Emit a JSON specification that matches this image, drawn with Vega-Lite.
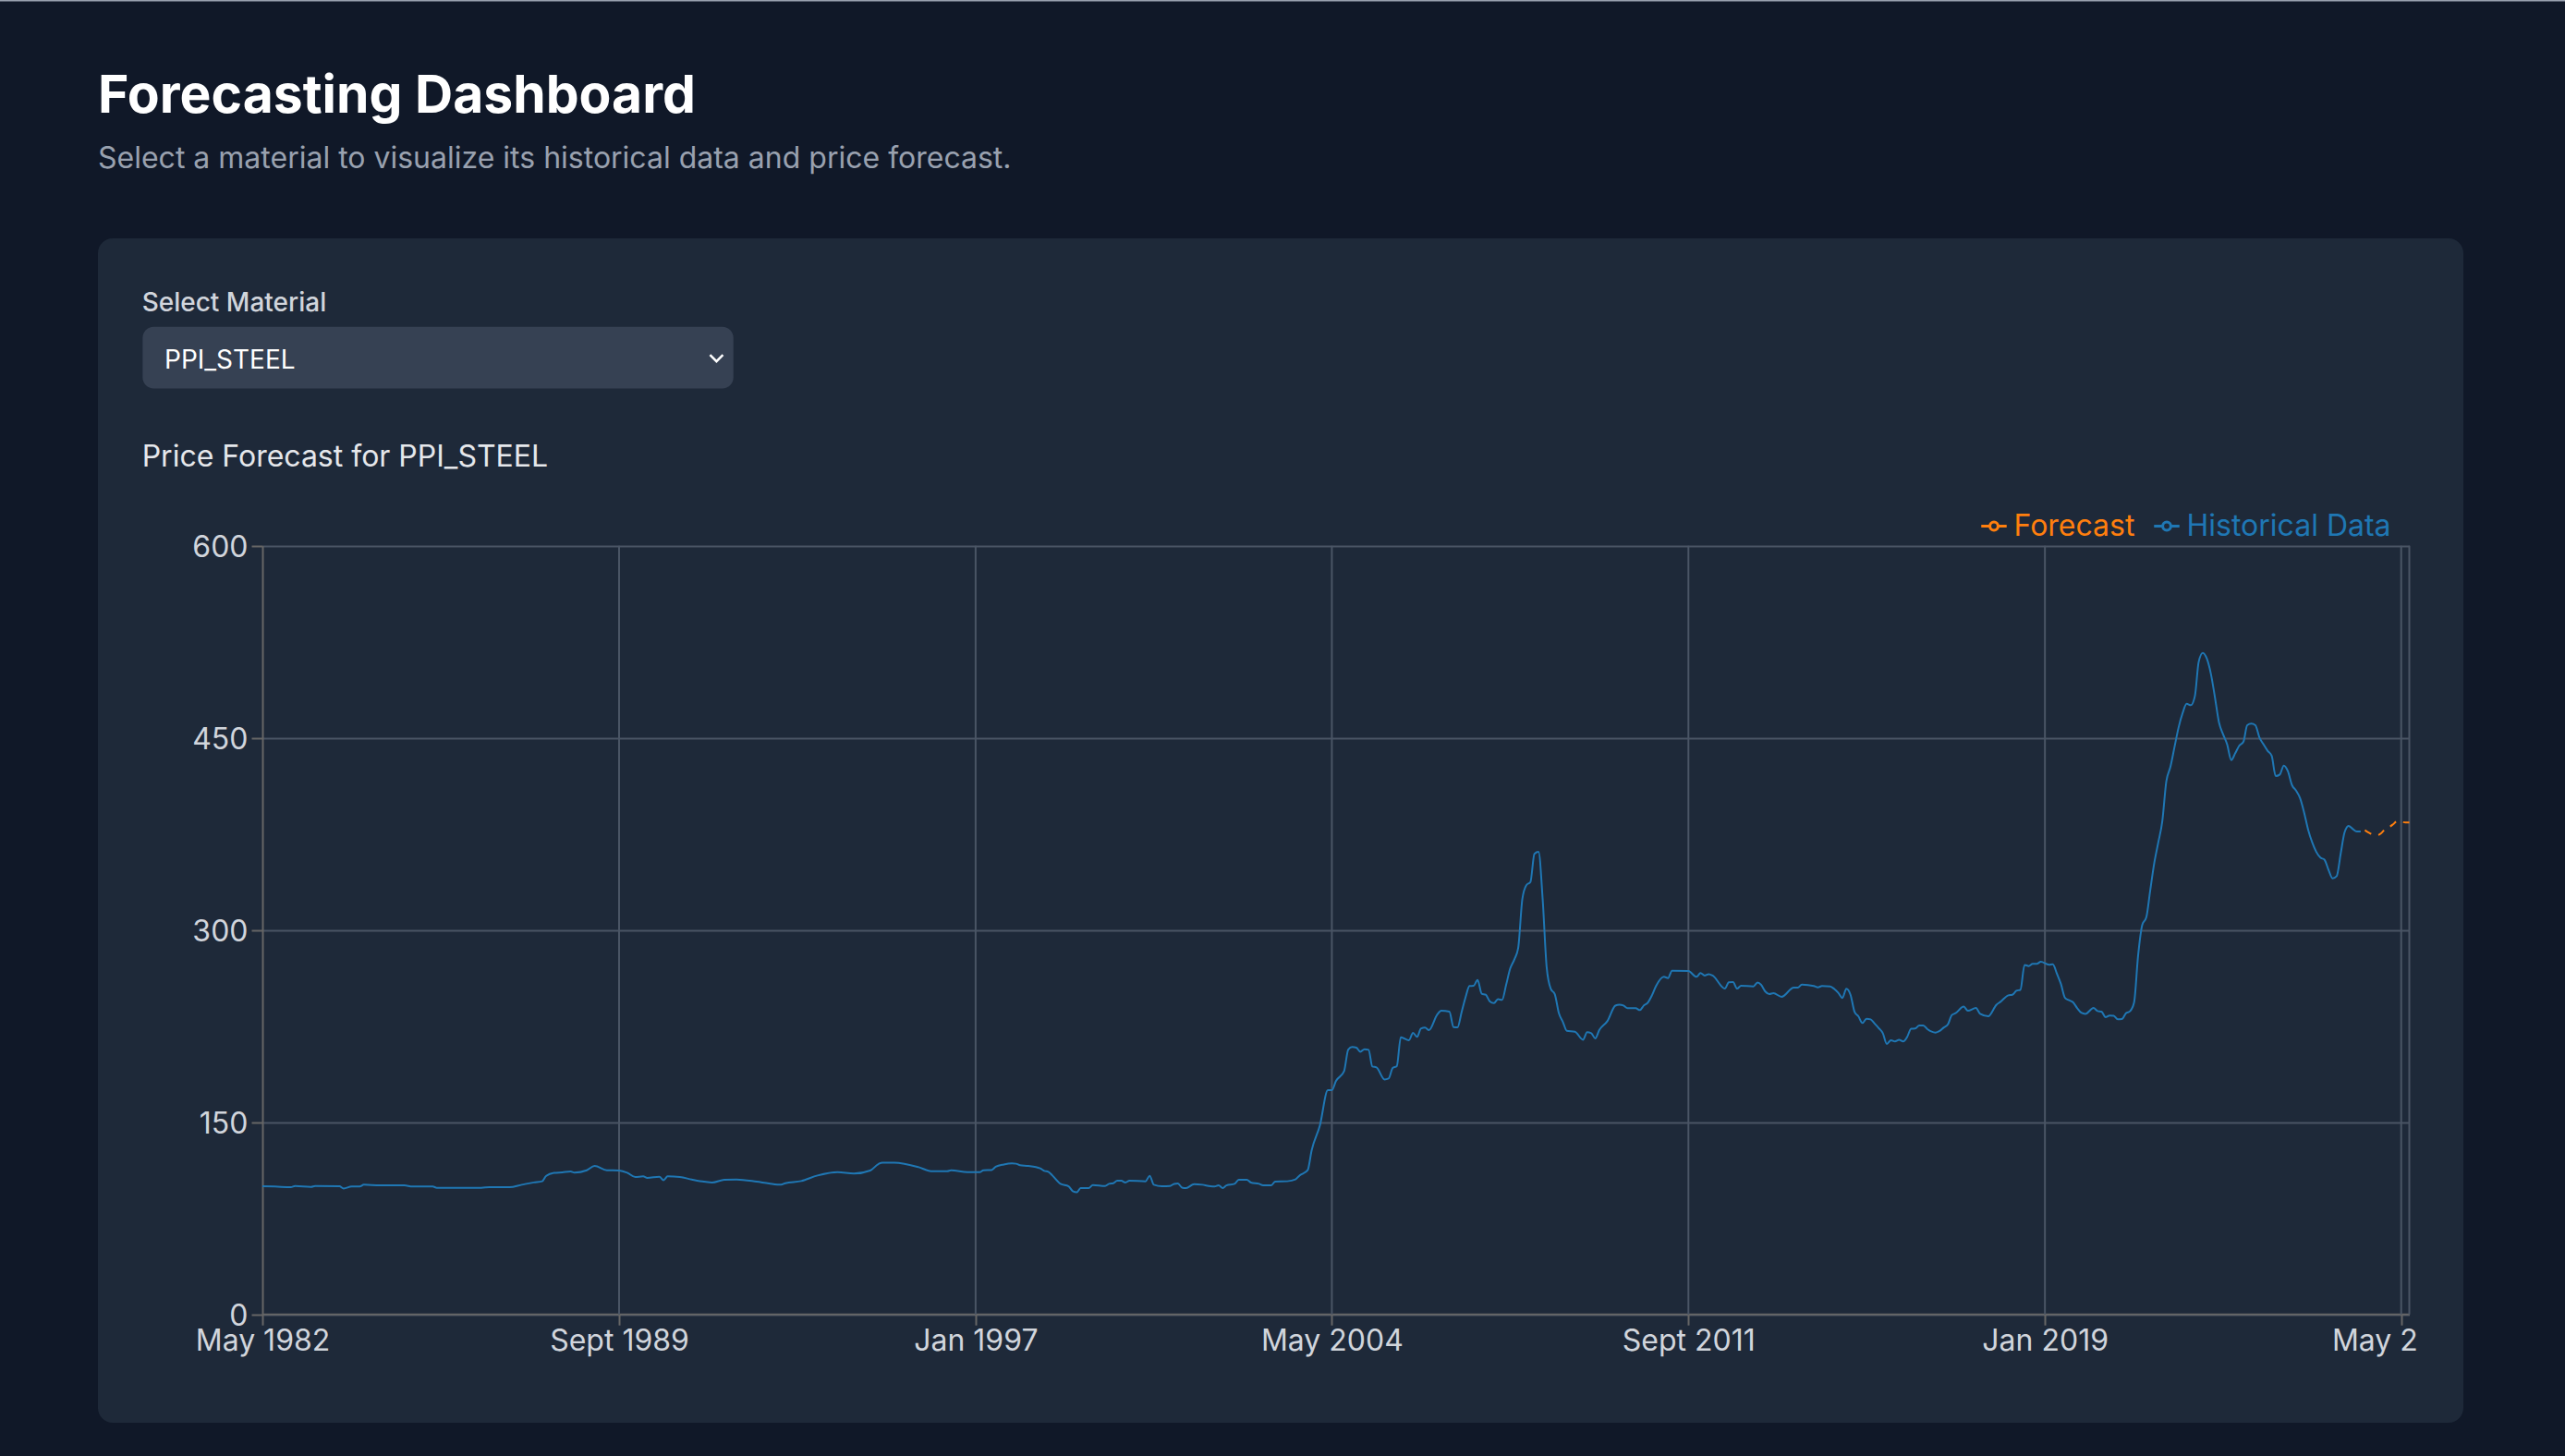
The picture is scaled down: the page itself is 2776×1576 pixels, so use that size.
{
  "$schema": "https://vega.github.io/schema/vega-lite/v6.json",
  "width": 2560,
  "height": 1282,
  "autosize": "none",
  "padding": {"left": 106, "top": 258, "right": 110, "bottom": 36},
  "background": "#101828",
  "title": {
    "text": "Forecasting Dashboard",
    "subtitle": "Select a material to visualize its historical data and price forecast.",
    "anchor": "start",
    "frame": "group",
    "offset": -189.5,
    "font": "Inter",
    "fontSize": 57,
    "fontWeight": 700,
    "color": "#ffffff",
    "subtitleFont": "Inter",
    "subtitleFontSize": 32,
    "subtitleFontWeight": 400,
    "subtitleColor": "#99a1af",
    "subtitlePadding": 23
  },
  "config": {
    "font": "Inter",
    "view": {"fill": "#1e2939", "stroke": null, "cornerRadius": 16}
  },
  "datasets": {
    "gridlines": [
      {"date":"1989-09"},{"date":"1997-01"},{"date":"2004-05"},{"date":"2011-09"},{"date":"2019-01"},{"date":"2026-05"},{"date":"2026-07"}
    ],
    "historical": [
      {"date":"1982-05","price":100},{"date":"1982-08","price":99.8},{"date":"1982-12","price":99.3},{"date":"1983-01","price":100.2},{"date":"1983-05","price":99.5},{"date":"1983-06","price":100.2},{"date":"1983-12","price":100},{"date":"1984-01","price":98.3},{"date":"1984-03","price":99.8},{"date":"1984-05","price":99.8},{"date":"1984-06","price":101.2},{"date":"1984-10","price":100.7},{"date":"1985-04","price":100.7},{"date":"1985-06","price":99.8},{"date":"1985-11","price":99.8},{"date":"1985-12","price":98.8},{"date":"1986-11","price":98.8},{"date":"1987-01","price":99.3},{"date":"1987-06","price":99.3},{"date":"1987-09","price":101.2},{"date":"1987-12","price":103},
      {"date":"1988-02","price":103.9},{"date":"1988-03","price":108},{"date":"1988-05","price":110.4},{"date":"1988-07","price":110.9},{"date":"1988-09","price":111.6},{"date":"1988-10","price":110.7},{"date":"1989-01","price":112.5},{"date":"1989-03","price":115.9},{"date":"1989-06","price":112.5},{"date":"1989-09","price":112.3},{"date":"1989-11","price":110.6},{"date":"1990-01","price":107.2},{"date":"1990-03","price":107.7},{"date":"1990-04","price":106.5},{"date":"1990-07","price":107.5},{"date":"1990-08","price":104.8},{"date":"1990-09","price":107.7},{"date":"1990-12","price":107.2},{"date":"1991-03","price":105.3},{"date":"1991-06","price":103.6},{"date":"1991-08","price":102.9},{"date":"1991-11","price":105.1},
      {"date":"1992-02","price":105.3},{"date":"1992-07","price":103.6},{"date":"1992-10","price":102.2},{"date":"1993-01","price":101.2},{"date":"1993-02","price":102.4},{"date":"1993-06","price":104.1},{"date":"1993-10","price":108.4},{"date":"1994-03","price":111},{"date":"1994-07","price":109.9},{"date":"1994-11","price":112.3},{"date":"1995-01","price":117.3},{"date":"1995-02","price":118.5},{"date":"1995-05","price":118.5},{"date":"1995-11","price":114.9},{"date":"1996-02","price":111.8},{"date":"1996-06","price":111.8},{"date":"1996-07","price":112.5},{"date":"1996-11","price":111},{"date":"1997-02","price":111},{"date":"1997-03","price":112.5},{"date":"1997-05","price":112.7},{"date":"1997-06","price":115.2},{"date":"1997-08","price":117},{"date":"1997-10","price":117.8},{"date":"1997-11","price":117.6},{"date":"1997-12","price":116.4},
      {"date":"1998-02","price":115.9},{"date":"1998-05","price":114},{"date":"1998-06","price":112},{"date":"1998-07","price":111.3},{"date":"1998-08","price":108.4},{"date":"1998-10","price":101.9},{"date":"1998-12","price":100},{"date":"1999-01","price":96.2},{"date":"1999-02","price":95.4},{"date":"1999-03","price":98.6},{"date":"1999-05","price":98.6},{"date":"1999-06","price":101},{"date":"1999-09","price":100.2},{"date":"1999-10","price":101.9},{"date":"1999-11","price":102.4},{"date":"1999-12","price":104.3},{"date":"2000-01","price":104.3},{"date":"2000-02","price":102.9},{"date":"2000-03","price":104.3},{"date":"2000-07","price":103.9},{"date":"2000-08","price":108.2},{"date":"2000-09","price":101.2},{"date":"2000-11","price":100},{"date":"2001-01","price":100.2},{"date":"2001-02","price":101.9},{"date":"2001-03","price":102.2},{"date":"2001-04","price":99},{"date":"2001-05","price":98.6},{"date":"2001-07","price":101.7},{"date":"2001-09","price":101.2},{"date":"2001-11","price":100},{"date":"2001-12","price":99.8},
      {"date":"2002-01","price":100.7},{"date":"2002-02","price":98.6},{"date":"2002-03","price":100.7},{"date":"2002-05","price":101.9},{"date":"2002-06","price":105.1},{"date":"2002-08","price":105.1},{"date":"2002-09","price":102.9},{"date":"2002-11","price":101.9},{"date":"2002-12","price":100.7},{"date":"2003-02","price":100.7},{"date":"2003-03","price":103.6},{"date":"2003-06","price":103.9},{"date":"2003-08","price":105.3},{"date":"2003-09","price":108.4},{"date":"2003-11","price":112.5},{"date":"2003-12","price":128},{"date":"2004-02","price":147.4},{"date":"2004-04","price":175},{"date":"2004-05","price":175},{"date":"2004-06","price":182.2},{"date":"2004-08","price":189.9},{"date":"2004-09","price":206.7},{"date":"2004-10","price":208.7},{"date":"2004-11","price":208.2},{"date":"2004-12","price":205},{"date":"2005-01","price":207},{"date":"2005-02","price":206.5},{"date":"2005-03","price":193.5},{"date":"2005-04","price":192.8},{"date":"2005-06","price":183.4},{"date":"2005-07","price":184.1},{"date":"2005-08","price":192.3},{"date":"2005-09","price":193.8},{"date":"2005-10","price":216.4},{"date":"2005-12","price":214},
      {"date":"2006-01","price":219.7},{"date":"2006-02","price":216.6},{"date":"2006-03","price":223.1},{"date":"2006-04","price":223.8},{"date":"2006-05","price":221.9},{"date":"2006-07","price":233.9},{"date":"2006-08","price":237},{"date":"2006-10","price":236.3},{"date":"2006-11","price":224.3},{"date":"2006-12","price":224},{"date":"2007-01","price":236},{"date":"2007-02","price":248},{"date":"2007-03","price":256.3},{"date":"2007-04","price":256.5},{"date":"2007-05","price":261},{"date":"2007-06","price":250.3},{"date":"2007-07","price":249.5},{"date":"2007-08","price":244.3},{"date":"2007-09","price":243},{"date":"2007-10","price":246},{"date":"2007-11","price":245.5},{"date":"2007-12","price":257},{"date":"2008-01","price":270},{"date":"2008-02","price":277},{"date":"2008-03","price":286},{"date":"2008-04","price":324},{"date":"2008-05","price":335},{"date":"2008-06","price":337.5},{"date":"2008-07","price":359.5},{"date":"2008-08","price":361},{"date":"2008-09","price":324},{"date":"2008-10","price":271},{"date":"2008-11","price":254},{"date":"2008-12","price":250},{"date":"2009-01","price":235},{"date":"2009-02","price":228},{"date":"2009-03","price":221.4},{"date":"2009-05","price":220.7},{"date":"2009-07","price":214.4},{"date":"2009-08","price":220.2},{"date":"2009-09","price":219.5},{"date":"2009-10","price":215.4},{"date":"2009-11","price":222},
      {"date":"2010-01","price":229},{"date":"2010-03","price":241},{"date":"2010-04","price":241.8},{"date":"2010-05","price":241.1},{"date":"2010-06","price":239},{"date":"2010-08","price":239},{"date":"2010-09","price":237.5},{"date":"2010-10","price":241.1},{"date":"2010-11","price":243.5},{"date":"2010-12","price":249},{"date":"2011-01","price":256.3},{"date":"2011-03","price":263.5},{"date":"2011-04","price":262.5},{"date":"2011-05","price":268.3},{"date":"2011-09","price":268},{"date":"2011-11","price":263.5},{"date":"2011-12","price":266.4},{"date":"2012-01","price":264.5},{"date":"2012-02","price":265.6},{"date":"2012-03","price":264.5},{"date":"2012-06","price":254.3},{"date":"2012-07","price":259.2},{"date":"2012-08","price":259.4},{"date":"2012-09","price":254.3},{"date":"2012-10","price":256.5},{"date":"2013-01","price":256},{"date":"2013-02","price":259},{"date":"2013-03","price":257.2},{"date":"2013-04","price":252},{"date":"2013-05","price":250},{"date":"2013-06","price":250.7},{"date":"2013-08","price":247.9},{"date":"2013-11","price":255},{"date":"2013-12","price":255},
      {"date":"2014-01","price":257.5},{"date":"2014-04","price":256.3},{"date":"2014-05","price":255.3},{"date":"2014-06","price":256.3},{"date":"2014-08","price":256},{"date":"2014-09","price":254},{"date":"2014-10","price":251},{"date":"2014-11","price":247},{"date":"2014-12","price":254.1},{"date":"2015-01","price":249.5},{"date":"2015-02","price":236},{"date":"2015-03","price":232.7},{"date":"2015-04","price":227.4},{"date":"2015-05","price":230.8},{"date":"2015-06","price":230.3},{"date":"2015-07","price":227},{"date":"2015-08","price":223.5},{"date":"2015-09","price":219.5},{"date":"2015-10","price":211.1},{"date":"2015-11","price":214},{"date":"2015-12","price":213},{"date":"2016-01","price":214.4},{"date":"2016-02","price":213},{"date":"2016-03","price":216.4},{"date":"2016-04","price":222.9},{"date":"2016-05","price":223.1},{"date":"2016-06","price":225.5},{"date":"2016-07","price":225.5},{"date":"2016-08","price":222.6},{"date":"2016-10","price":220},{"date":"2016-11","price":221.2},{"date":"2016-12","price":223.8},
      {"date":"2017-01","price":226.2},{"date":"2017-02","price":233.7},{"date":"2017-03","price":235.1},{"date":"2017-05","price":240.2},{"date":"2017-06","price":237},{"date":"2017-08","price":239.2},{"date":"2017-09","price":234.6},{"date":"2017-11","price":232.7},{"date":"2018-01","price":241.6},{"date":"2018-02","price":244},{"date":"2018-04","price":249},{"date":"2018-05","price":249.5},{"date":"2018-06","price":252.6},{"date":"2018-07","price":253.4},{"date":"2018-08","price":272.8},{"date":"2018-09","price":271.9},{"date":"2018-10","price":273.6},{"date":"2018-11","price":273.6},{"date":"2018-12","price":275.3},{"date":"2019-02","price":273},{"date":"2019-03","price":273.3},{"date":"2019-04","price":266},{"date":"2019-05","price":258},{"date":"2019-06","price":247.1},{"date":"2019-07","price":245.2},{"date":"2019-08","price":243.5},{"date":"2019-09","price":239},{"date":"2019-10","price":235.5},{"date":"2019-11","price":234.6},{"date":"2020-01","price":239.2},{"date":"2020-02","price":236.8},{"date":"2020-03","price":236.3},{"date":"2020-04","price":232},{"date":"2020-05","price":233.2},{"date":"2020-06","price":233},{"date":"2020-07","price":230.3},{"date":"2020-08","price":230.5},{"date":"2020-09","price":235.1},{"date":"2020-10","price":236.6},{"date":"2020-11","price":243.5},{"date":"2020-12","price":280},
      {"date":"2021-01","price":304},{"date":"2021-02","price":310},{"date":"2021-03","price":330},{"date":"2021-04","price":352},{"date":"2021-05","price":368},{"date":"2021-06","price":385},{"date":"2021-07","price":416},{"date":"2021-08","price":427.4},{"date":"2021-09","price":443},{"date":"2021-10","price":458},{"date":"2021-11","price":469.5},{"date":"2021-12","price":476.7},{"date":"2022-01","price":475.5},{"date":"2022-02","price":482.7},{"date":"2022-03","price":509.2},{"date":"2022-04","price":516.4},{"date":"2022-05","price":512},{"date":"2022-06","price":500},{"date":"2022-07","price":482},{"date":"2022-08","price":462},{"date":"2022-09","price":452.7},{"date":"2022-10","price":445},{"date":"2022-11","price":432.7},{"date":"2022-12","price":438},{"date":"2023-01","price":444},{"date":"2023-02","price":447.1},{"date":"2023-03","price":459.9},{"date":"2023-04","price":461.1},{"date":"2023-05","price":459.9},{"date":"2023-06","price":450.3},{"date":"2023-07","price":445},{"date":"2023-08","price":440},{"date":"2023-09","price":436},{"date":"2023-10","price":420.2},{"date":"2023-11","price":421.4},{"date":"2023-12","price":428.4},{"date":"2024-01","price":423.9},{"date":"2024-02","price":413},{"date":"2024-03","price":409},{"date":"2024-04","price":403},{"date":"2024-05","price":392},{"date":"2024-06","price":378.2},{"date":"2024-07","price":368.5},{"date":"2024-08","price":361},{"date":"2024-09","price":356.5},{"date":"2024-10","price":355},{"date":"2024-11","price":347},{"date":"2024-12","price":340.4},{"date":"2025-01","price":342.1},{"date":"2025-02","price":360},{"date":"2025-03","price":376},{"date":"2025-04","price":381.3},{"date":"2025-05","price":379},{"date":"2025-06","price":377},{"date":"2025-07","price":376.9}
    ],
    "forecast": [
      {"date":"2025-08","price":378},{"date":"2025-09","price":376},{"date":"2025-10","price":374.5},{"date":"2025-11","price":374},{"date":"2025-12","price":375.5},{"date":"2026-01","price":379},{"date":"2026-02","price":380.5},{"date":"2026-03","price":382.5},{"date":"2026-04","price":385},{"date":"2026-05","price":384.6},{"date":"2026-06","price":384},{"date":"2026-07","price":384}
    ]
  },
  "layer": [
    {
      "data": {"values": [{"edge": "top"}]},
      "mark": {"type": "rule", "color": "#99a1af", "strokeWidth": 2},
      "encoding": {
        "x": {"datum": {"year": 1976, "month": 1}, "type": "temporal", "scale": {"domain": [{"year": 1982, "month": 5}, {"year": 2026, "month": 7}], "range": [178, 2501.5], "nice": false}},
        "x2": {"datum": {"year": 2030, "month": 6}},
        "y": {"datum": 1025.6, "type": "quantitative", "scale": {"domain": [0, 600], "range": [1164.7, 332.7], "nice": false}}
      }
    },
    {
      "data": {"values": [{"control": "PPI_STEEL"}]},
      "mark": {"type": "rect", "color": "#364153", "cornerRadius": 12},
      "encoding": {
        "x": {"datum": {"year": 1979, "month": 11, "date": 13}, "type": "temporal", "scale": {"domain": [{"year": 1982, "month": 5}, {"year": 2026, "month": 7}], "range": [178, 2501.5], "nice": false}},
        "x2": {"datum": {"year": 1992, "month": 1, "date": 8}},
        "y": {"datum": 722.7, "type": "quantitative", "scale": {"domain": [0, 600], "range": [1164.7, 332.7], "nice": false}},
        "y2": {"datum": 770.8}
      }
    },
    {
      "data": {"values": [{"label": "Select Material"}]},
      "mark": {"type": "text", "align": "left", "baseline": "alphabetic", "font": "Inter", "fontSize": 28, "fontWeight": 500, "color": "#d1d5dc"},
      "encoding": {
        "x": {"datum": {"year": 1979, "month": 11, "date": 8}, "type": "temporal", "scale": {"domain": [{"year": 1982, "month": 5}, {"year": 2026, "month": 7}], "range": [178, 2501.5], "nice": false}},
        "y": {"datum": 783, "type": "quantitative", "scale": {"domain": [0, 600], "range": [1164.7, 332.7], "nice": false}},
        "text": {"field": "label"}
      }
    },
    {
      "data": {"values": [{"label": "PPI_STEEL"}]},
      "mark": {"type": "text", "align": "left", "baseline": "alphabetic", "font": "Inter", "fontSize": 28, "color": "#ffffff"},
      "encoding": {
        "x": {"datum": {"year": 1980, "month": 4, "date": 25}, "type": "temporal", "scale": {"domain": [{"year": 1982, "month": 5}, {"year": 2026, "month": 7}], "range": [178, 2501.5], "nice": false}},
        "y": {"datum": 738.5, "type": "quantitative", "scale": {"domain": [0, 600], "range": [1164.7, 332.7], "nice": false}},
        "text": {"field": "label"}
      }
    },
    {
      "data": {"values": [{"control": "chevron"}]},
      "mark": {"type": "point", "shape": "M-1,-0.5L0,0.5L1,-0.5", "filled": false, "color": "#ffffff", "strokeWidth": 2.5, "size": 196, "opacity": 1},
      "encoding": {
        "x": {"datum": {"year": 1991, "month": 9, "date": 3}, "type": "temporal", "scale": {"domain": [{"year": 1982, "month": 5}, {"year": 2026, "month": 7}], "range": [178, 2501.5], "nice": false}},
        "y": {"datum": 746.4, "type": "quantitative", "scale": {"domain": [0, 600], "range": [1164.7, 332.7], "nice": false}}
      }
    },
    {
      "data": {"values": [{"label": "Price Forecast for PPI_STEEL"}]},
      "mark": {"type": "text", "align": "left", "baseline": "alphabetic", "font": "Inter", "fontSize": 32, "color": "#e5e7eb"},
      "encoding": {
        "x": {"datum": {"year": 1979, "month": 11, "date": 8}, "type": "temporal", "scale": {"domain": [{"year": 1982, "month": 5}, {"year": 2026, "month": 7}], "range": [178, 2501.5], "nice": false}},
        "y": {"datum": 661.5, "type": "quantitative", "scale": {"domain": [0, 600], "range": [1164.7, 332.7], "nice": false}},
        "text": {"field": "label"}
      }
    },
    {
      "data": {"values": [{"label": "May 2"}]},
      "mark": {"type": "text", "align": "left", "baseline": "alphabetic", "font": "Inter", "fontSize": 32, "color": "#d1d5dc"},
      "encoding": {
        "x": {"datum": {"year": 2024, "month": 11, "date": 28}, "type": "temporal", "scale": {"domain": [{"year": 1982, "month": 5}, {"year": 2026, "month": 7}], "range": [178, 2501.5], "nice": false}},
        "y": {"datum": -28.1, "type": "quantitative", "scale": {"domain": [0, 600], "range": [1164.7, 332.7], "nice": false}},
        "text": {"field": "label"}
      }
    },
    {
      "data": {"name": "gridlines"},
      "mark": {"type": "rule", "color": "#4a5565", "strokeWidth": 2},
      "encoding": {
        "x": {"field": "date", "type": "temporal", "scale": {"domain": [{"year": 1982, "month": 5}, {"year": 2026, "month": 7}], "range": [178, 2501.5], "nice": false}},
        "y": {"datum": 0, "type": "quantitative", "scale": {"domain": [0, 600], "range": [1164.7, 332.7], "nice": false}},
        "y2": {"datum": 600}
      }
    },
    {
      "encoding": {
        "x": {
          "field": "date",
          "type": "temporal",
          "scale": {"domain": [{"year": 1982, "month": 5}, {"year": 2026, "month": 7}], "range": [178, 2501.5], "nice": false},
          "axis": {
            "title": null,
            "offset": -117.8,
            "values": [
              {"year": 1982, "month": 5}, {"year": 1989, "month": 9}, {"year": 1997, "month": 1},
              {"year": 2004, "month": 5}, {"year": 2011, "month": 9}, {"year": 2019, "month": 1},
              {"year": 2026, "month": 5}
            ],
            "labelExpr": "year(datum.value) == 2026 ? '' : replace(timeFormat(datum.value, '%b %Y'), 'Sep ', 'Sept ')",
            "labelFont": "Inter",
            "labelFontSize": 32,
            "labelColor": "#d1d5dc",
            "labelPadding": 2.5,
            "labelOverlap": false,
            "labelBound": false,
            "labelFlush": false,
            "domainColor": "#666666",
            "domainWidth": 2,
            "tickColor": "#666666",
            "tickWidth": 2,
            "tickSize": 12,
            "grid": false
          }
        },
        "y": {
          "field": "price",
          "type": "quantitative",
          "scale": {"domain": [0, 600], "range": [1164.7, 332.7], "nice": false},
          "axis": {
            "title": null,
            "offset": -178,
            "values": [0, 150, 300, 450, 600],
            "labelFont": "Inter",
            "labelFontSize": 32,
            "labelColor": "#d1d5dc",
            "labelPadding": 4,
            "labelOffset": 1.5,
            "labelBound": false,
            "labelFlush": false,
            "domainColor": "#666666",
            "domainWidth": 2,
            "tickColor": "#666666",
            "tickWidth": 2,
            "tickSize": 12,
            "grid": true,
            "gridColor": "#4a5565",
            "gridWidth": 2
          }
        }
      },
      "layer": [
        {
          "data": {"name": "historical"},
          "mark": {"type": "line", "interpolate": "monotone", "strokeWidth": 2},
          "encoding": {
            "color": {
              "datum": "Historical Data",
              "scale": {"domain": ["Forecast", "Historical Data"], "range": ["#ff7f0e", "#1f77b4"]},
              "legend": {
                "title": null,
                "orient": "none",
                "legendX": 2036,
                "legendY": 295.5,
                "direction": "horizontal",
                "columns": 2,
                "labelFont": "Inter",
                "labelFontSize": 32,
                "labelLimit": 400,
                "labelOffset": 5.5,
                "columnPadding": 14,
                "symbolType": "M-1,0H-0.32M0.32,0H1M0.32,0A0.32,0.32,0,1,1,-0.32,0A0.32,0.32,0,1,1,0.32,0",
                "symbolSize": 756,
                "symbolStrokeWidth": 3,
                "symbolDash": [],
                "encode": {
                  "labels": {"update": {"fill": {"signal": "datum.value == 'Forecast' ? '#ff7f0e' : '#1f77b4'"}}},
                  "symbols": {"update": {"fill": {"value": "#1e2939"}}}
                }
              }
            }
          }
        },
        {
          "data": {"name": "forecast"},
          "mark": {"type": "line", "interpolate": "monotone", "strokeWidth": 2, "strokeDash": [8, 8]},
          "encoding": {
            "color": {"datum": "Forecast"}
          }
        }
      ]
    }
  ]
}
